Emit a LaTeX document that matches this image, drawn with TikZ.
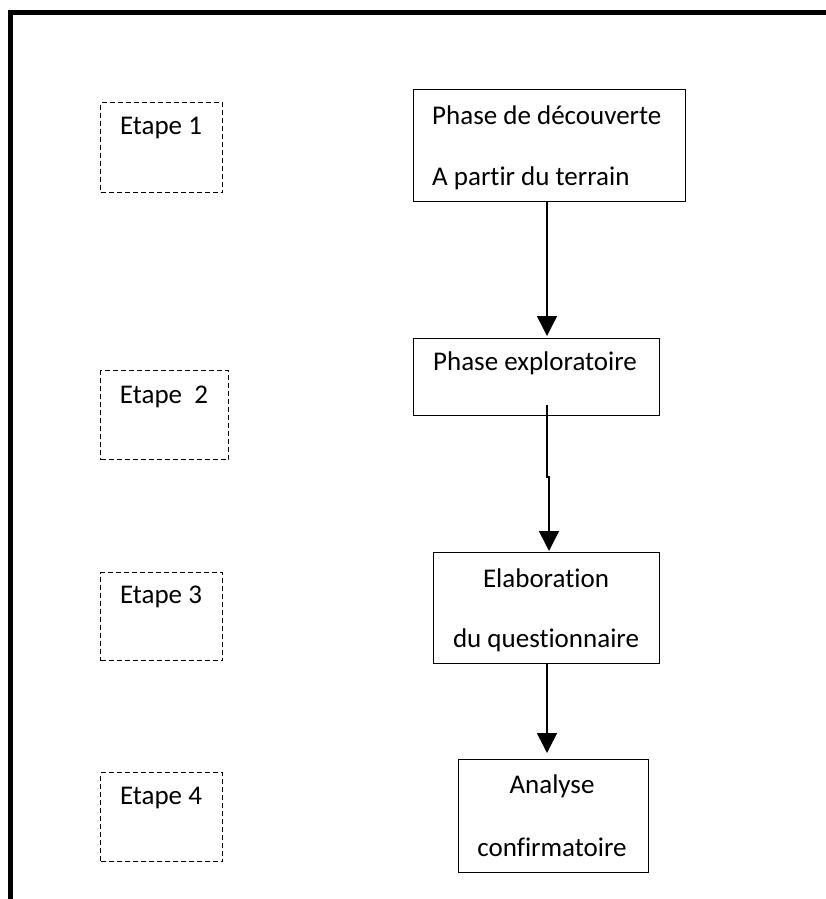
\documentclass[tikz,border=0pt]{standalone}
\usepackage{fontspec}
\setmainfont[Ligatures=NoCommon]{Carlito}
\usetikzlibrary{arrows.meta}
\begin{document}
\begin{tikzpicture}[x=1pt,y=-1pt,
  etapebox/.style={draw, dash pattern=on 5pt off 3pt, line width=1.4pt, inner sep=0pt, anchor=north west},
  phasebox/.style={draw, line width=1.4pt, inner sep=0pt, anchor=north west},
  lbl/.style={font=\fontsize{27}{32}\selectfont, inner sep=0pt},
  flow/.style={line width=1.5pt, -{Triangle[width=20pt,length=20pt]}}]
\useasboundingbox (0,0) rectangle (826,899);
% outer frame (top and left only)
\draw[line width=5pt] (8,12.5) -- (826,12.5);
\draw[line width=5pt] (10.5,10) -- (10.5,899);
% Etape boxes
\node[etapebox, minimum width=122pt, minimum height=90pt] (e1) at (100,102) {};
\node[lbl] (e1t) at (161,128) {Etape 1};
\node[etapebox, minimum width=128pt, minimum height=89pt] (e2) at (100,370) {};
\node[lbl] (e2t) at (164,397) {Etape~~2};
\node[etapebox, minimum width=122pt, minimum height=88pt] (e3) at (100,572) {};
\node[lbl] (e3t) at (161,597) {Etape 3};
\node[etapebox, minimum width=122pt, minimum height=89pt] (e4) at (100,772) {};
\node[lbl] (e4t) at (161,798) {Etape 4};
% Phase boxes
\node[phasebox, minimum width=272pt, minimum height=112pt] (p1) at (413,89) {};
\node[lbl, anchor=west] (p1a) at (432,115) {Phase de découverte};
\node[lbl, anchor=west] (p1b) at (432,178) {A partir du terrain};
\node[phasebox, minimum width=246pt, minimum height=77pt] (p2) at (413,338) {};
\node[lbl] (p2t) at (535,363) {Phase exploratoire};
\node[phasebox, minimum width=226pt, minimum height=111pt] (p3) at (433,552) {};
\node[lbl] (p3a) at (546,578) {Elaboration};
\node[lbl] (p3b) at (546,640) {du questionnaire};
\node[phasebox, minimum width=190pt, minimum height=113pt] (p4) at (458,759) {};
\node[lbl] (p4a) at (552,786) {Analyse};
\node[lbl] (p4b) at (552,847) {confirmatoire};
% connectors
\coordinate (a1s) at (547,201);
\coordinate (a1e) at (547,336);
\draw[flow] (a1s) -- (a1e);
\coordinate (a2s) at (547,405);
\coordinate (a2m) at (547,477);
\coordinate (a2n) at (549,477);
\coordinate (a2e) at (549,551);
\draw[flow] (a2s) -- (a2m) -- (a2n) -- (a2e);
\coordinate (a3s) at (547,663);
\coordinate (a3e) at (547,753);
\draw[flow] (a3s) -- (a3e);
\end{tikzpicture}
\end{document}
